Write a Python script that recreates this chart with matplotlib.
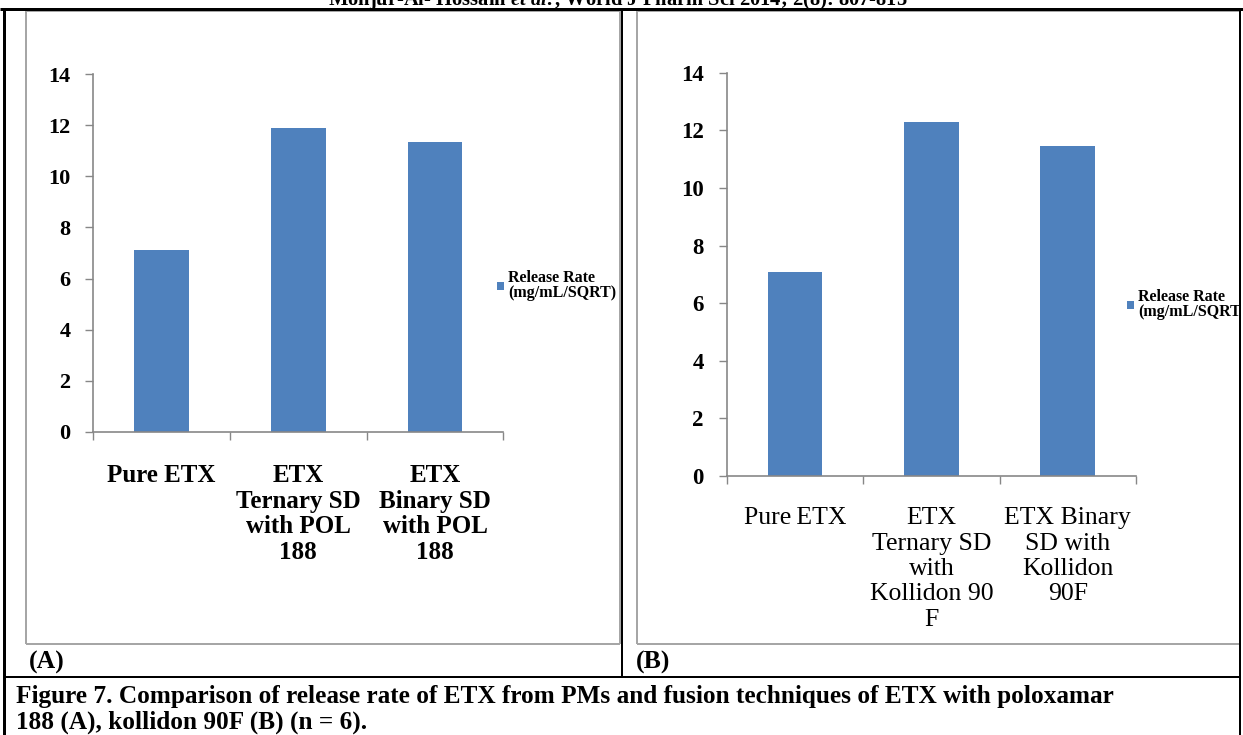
import matplotlib
matplotlib.use("Agg")
import matplotlib.pyplot as plt
from matplotlib.lines import Line2D
from matplotlib.patches import Rectangle, Patch

# ---------------- data ----------------
categories_a = ["Pure ETX", "ETX\nTernary SD\nwith POL\n188", "ETX\nBinary SD\nwith POL\n188"]
values_a = [7.12, 11.90, 11.33]

categories_b = ["Pure\u2009ETX", "ETX\nTernary SD\nwith\nKollidon 90\nF", "ETX Binary\nSD with\nKollidon\n90F"]
values_b = [7.08, 12.30, 11.45]

yticks = [0, 2, 4, 6, 8, 10, 12, 14]
series_label = "Release Rate\n(mg/mL/SQRT)"
panel_labels = ["(A)", "(B)"]
header_text = "Monjur-Al- Hossain $\\it{et\\ al.}$, World J Pharm Sci 2014; 2(8): 807-815"
caption_lines = [
    "Figure 7. Comparison of release rate of ETX from PMs and fusion techniques of ETX with poloxamar",
    "188 (A), kollidon 90F (B) (n = 6).",
]

# ---------------- style ----------------
W, H, DPI = 1243, 735, 100
BAR = "#4F81BD"
AXGRAY = "#878787"
FRAME = "#A6A6A6"
SERIF = ["Liberation Serif", "DejaVu Serif"]
plt.rcParams["font.family"] = SERIF
plt.rcParams["mathtext.fontset"] = "custom"
plt.rcParams["mathtext.rm"] = "Liberation Serif:bold"
plt.rcParams["mathtext.it"] = "Liberation Serif:bold:italic"

fig = plt.figure(figsize=(W / DPI, H / DPI), dpi=DPI)
fig.patch.set_facecolor("white")


def fx(x):
    return x / W


def fy(y):
    return 1 - y / H


def px2pt(p):
    return p * 72 / DPI


def add_ax(left, top, right, bottom):
    return fig.add_axes([fx(left), fy(bottom), (right - left) / W, (bottom - top) / H])


def fline(x0, y0, x1, y1, color, lw_px, z=10):
    fig.add_artist(Line2D([fx(x0), fx(x1)], [fy(y0), fy(y1)], transform=fig.transFigure,
                          color=color, lw=px2pt(lw_px), zorder=z, solid_capstyle="butt"))


# chart-area frames (gray)
fline(26, 11, 620, 11, FRAME, 2)
fline(26, 11, 26, 644, FRAME, 2)
fline(26, 644, 620, 644, FRAME, 2)
fline(620, 11, 620, 644, FRAME, 2)
fline(637, 11, 1243, 11, FRAME, 2)
fline(637, 11, 637, 644, FRAME, 2)
fline(637, 644, 1243, 644, FRAME, 2)


def draw_panel(ax, cats, vals, label_weight, ysize, xsize, xls, xpad, legend_xy):
    x = list(range(len(cats)))
    ax.bar(x, vals, width=0.4, color=BAR, edgecolor="none", zorder=2, label=series_label)
    ax.set_xlim(-0.5, len(cats) - 0.5)
    ax.set_ylim(0, 14)
    ax.set_yticks(yticks)
    ax.set_yticklabels([str(v) for v in yticks], fontweight="bold", fontsize=ysize)
    ax.set_xticks(x)
    ax.set_xticklabels(cats, fontweight=label_weight, fontsize=xsize, linespacing=xls)
    ax.set_xticks([i - 0.5 for i in range(len(cats) + 1)], minor=True)
    ax.tick_params(axis="x", which="major", length=0, pad=xpad)
    ax.tick_params(axis="x", which="minor", length=px2pt(8), width=1, color=AXGRAY, direction="out")
    ax.tick_params(axis="y", length=px2pt(8), width=1, color=AXGRAY, direction="out", pad=px2pt(15))
    for s in ("top", "right"):
        ax.spines[s].set_visible(False)
    for s in ("left", "bottom"):
        ax.spines[s].set_color(AXGRAY)
        ax.spines[s].set_linewidth(1.2)
    ax.set_facecolor("none")
    leg = ax.legend(handles=[Patch(facecolor=BAR, edgecolor="none", label=series_label)],
                    loc="upper left", bbox_to_anchor=(fx(legend_xy[0]), fy(legend_xy[1])),
                    bbox_transform=fig.transFigure, frameon=False,
                    prop={"family": SERIF, "weight": "bold", "size": 11.5},
                    handlelength=0.45, handleheight=0.45, handletextpad=0.25,
                    borderpad=0, borderaxespad=0)
    for t in leg.get_texts():
        t.set_linespacing(0.95)
    return leg


ax_a = add_ax(93.3, 74.3, 503.3, 431.7)
draw_panel(ax_a, categories_a, values_a, "bold", 16, 18, 1.16, 23, (497, 270))

ax_b = add_ax(726.7, 72.7, 1136, 476)
draw_panel(ax_b, categories_b, values_b, "normal", 16.5, 18.5, 1.2, 22.5, (1127, 289))

# clip region beyond right table border
fig.add_artist(Rectangle((fx(1239), 0), 1 - fx(1239), 1, transform=fig.transFigure,
                         facecolor="white", edgecolor="none", zorder=20))

# table lines (black)
fline(0, 9, 1243, 9, "black", 3, 30)
fline(4, 9, 4, 735, "black", 3, 30)
fline(622, 9, 622, 677, "black", 2, 30)
fline(1240, 9, 1240, 735, "black", 2, 30)
fline(4, 677, 1240, 677, "black", 2, 30)

# panel labels
fig.text(fx(29), fy(662), panel_labels[0], fontsize=18.5, fontweight="bold", va="center", ha="left")
fig.text(fx(636), fy(662), panel_labels[1], fontsize=18.5, fontweight="bold", va="center", ha="left")

# caption
fig.text(fx(16), fy(696), caption_lines[0], fontsize=18.2, fontweight="bold", va="center", ha="left")
fig.text(fx(16), fy(722), caption_lines[1], fontsize=18.2, fontweight="bold", va="center", ha="left")

# header (cut at top)
fig.text(fx(618), fy(5), header_text, fontsize=14.8, fontweight="bold", va="baseline", ha="center")

fig.savefig("out.png", dpi=DPI, facecolor="white")
